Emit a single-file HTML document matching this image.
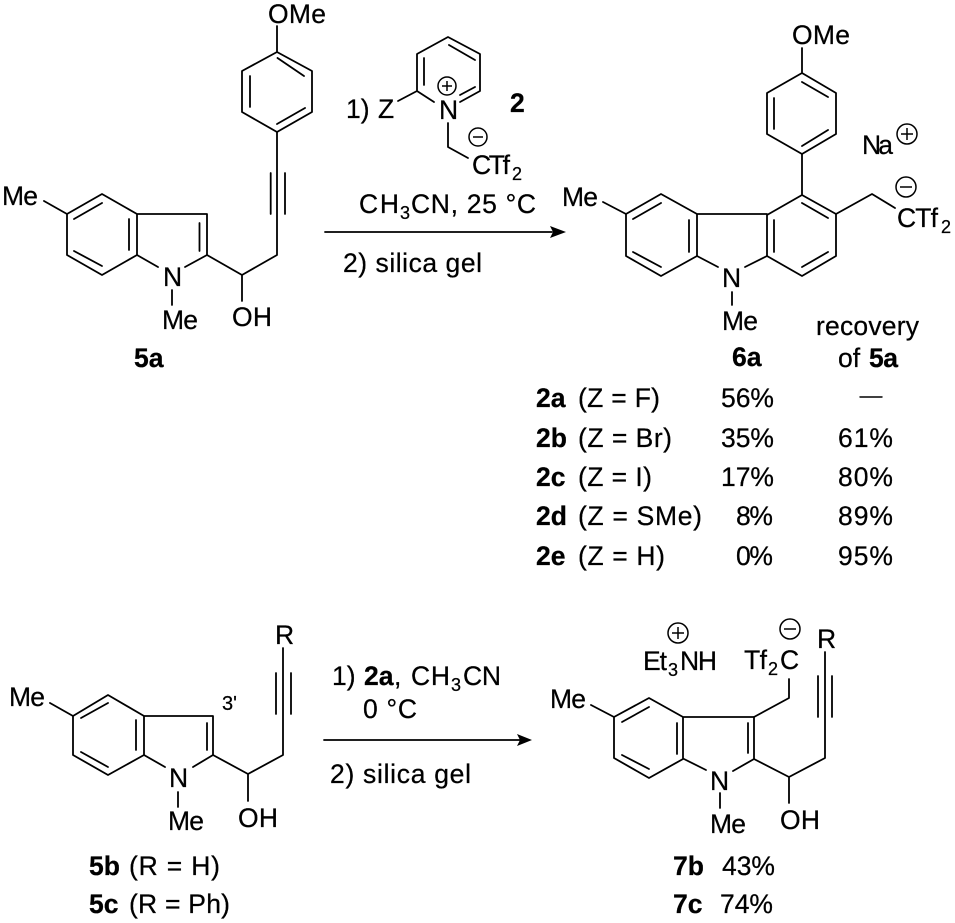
<!DOCTYPE html>
<html>
<head>
<meta charset="utf-8">
<style>
html,body{margin:0;padding:0;background:#fff;}
svg{display:block;}
text{font-family:"Liberation Sans",Arial,sans-serif;font-size:26.5px;fill:#000;stroke:#000;stroke-width:.25px;}
.b{font-weight:bold;}
.s{font-size:18px;}
.c{fill:none;stroke:#000;stroke-width:1.5;}
.l{font-size:20px;}
</style>
</head>
<body>
<svg width="955" height="923" viewBox="0 0 955 923" xmlns="http://www.w3.org/2000/svg">
<g fill="none" stroke="#000" stroke-width="1.8" stroke-linecap="round" stroke-linejoin="round">
<!-- 5a -->
<path d="M277 26V52L312 71V112L277 132L242 112V71L277 52"/>
<path d="M277.500 58L304 76M250 76V107M277 124L305 108"/>
<path d="M277 132V255L242 275V301M242 275L207 255V214H137L102 194L67 214V255L102 275L137 255V214M44 201L67 214"/>
<path d="M270.700 173V214M285 173V214M199.500 223V251M102 203L74 219M74 251L102 266M129 219V250"/>
<path d="M137 255L158 267M207 255L185 267M172 290V305"/>
<!-- pyridinium -->
<path d="M434 102L417 91V54L448 37L480 54V91L460 102M417 91L398 101"/>
<path d="M449 45L475 60M475 87L460 95M424 58V85M448 123V147L468 158"/>
<!-- arrow 1 -->
<path d="M325 232H552"/>
<!-- 6a -->
<path d="M802 48V73L836 93V134L802 154L767 134V93L802 73"/>
<path d="M802 82L828 97M828 130L802 146M774 98V129"/>
<path d="M802 154V195L836 214V256L802 276L767 256V215L802 195"/>
<path d="M802 203L828 218M828 252L802 267M774 220V252"/>
<path d="M767 214H697V256L661 276L626 256V214L661 194L697 214"/>
<path d="M661 203L633 219M633 252L661 267M689 220V252"/>
<path d="M603 202L626 214M697 256L718 267M767 256L745 267M732 292V305M836 214L872 194L895 208"/>
<!-- 5b -->
<path d="M283 648V755L248 774V801M248 774L213 755V716H144L108 695L73 716V755L108 775L144 755V716M50 703L73 716"/>
<path d="M276 673V714M291 673V714M207 723V750M108 703L81 718M81 752L108 767M136 720V750"/>
<path d="M144 755L165 767M213 755L193 767M178 792V807"/>
<!-- arrow 2 -->
<path d="M324 740H520"/>
<!-- 7 -->
<path d="M825 652V758L789 777V803M789 777L754 759V717H683L649 698L614 717V758L649 778L683 759V717M591 705L614 717"/>
<path d="M818 676V717M832 676V717M748 723V753M649 707L622 722M622 755L649 769M677 723V754"/>
<path d="M684 759L706 770M754 759L733 771M720 793V808M754 717L789 698V679"/>
<path d="M860 397H882" stroke-width="1.400"/>
</g>
<!-- arrowheads -->
<path d="M566 232L550 226L553 232L550 238Z" fill="#000"/>
<path d="M532 740L517 734L520 740L517 746Z" fill="#000"/>

<!-- charges -->
<g class="c">
<circle cx="447" cy="86" r="9"/><path d="M442 86H452M447 81V91"/>
<circle cx="478" cy="137" r="9"/><path d="M473 137H483"/>
<circle cx="907" cy="134" r="10"/><path d="M901 134H913M907 128V140"/>
<circle cx="906" cy="187" r="10"/><path d="M900 187H912"/>
<circle cx="678" cy="633" r="10"/><path d="M672 633H684M678 627V639"/>
<circle cx="790" cy="629" r="10"/><path d="M784 629H796"/>
</g>

<!-- 5a text -->
<text x="268" y="23" textLength="58">OMe</text>
<text x="2" y="205" textLength="36">Me</text>
<text x="163" y="286">N</text>
<text x="162" y="329" textLength="36">Me</text>
<text x="232" y="326" textLength="40">OH</text>
<text x="134" y="367" class="b">5a</text>

<!-- reagents 1 -->
<text x="346" y="118">1)</text>
<text x="378" y="118">Z</text>
<text x="439" y="119">N</text>
<text x="510" y="112" class="b">2</text>
<text x="472" y="174" textLength="38">CTf</text>
<text x="512" y="180" class="s">2</text>
<text x="359" y="213" textLength="40">CH</text>
<text x="400" y="219" class="s">3</text>
<text x="411" y="213" textLength="125">CN, 25 °C</text>
<text x="343" y="272" textLength="139">2) silica gel</text>

<!-- 6a text -->
<text x="792" y="44" textLength="58">OMe</text>
<text x="862" y="154" textLength="31">Na</text>
<text x="562" y="206" textLength="36">Me</text>
<text x="897" y="227" textLength="41">CTf</text>
<text x="941" y="233" class="s">2</text>
<text x="722" y="287">N</text>
<text x="722" y="330" textLength="36">Me</text>
<text x="816" y="335" textLength="103">recovery</text>
<text x="732" y="366" class="b">6a</text>
<text x="838" y="367">of</text>
<text x="869" y="367" class="b" textLength="29">5a</text>

<!-- table -->
<text x="536" y="407" class="b">2a</text><text x="578" y="407" textLength="82">(Z = F)</text><text x="721" y="407" textLength="53">56%</text>
<text x="536" y="447" class="b">2b</text><text x="578" y="447" textLength="94">(Z = Br)</text><text x="721" y="447" textLength="53">35%</text><text x="838" y="447" textLength="55">61%</text>
<text x="536" y="486" class="b">2c</text><text x="578" y="486" textLength="74">(Z = I)</text><text x="721" y="486" textLength="53">17%</text><text x="838" y="486" textLength="55">80%</text>
<text x="536" y="525" class="b">2d</text><text x="578" y="525" textLength="124">(Z = SMe)</text><text x="736" y="525" textLength="37">8%</text><text x="838" y="525" textLength="55">89%</text>
<text x="536" y="565" class="b">2e</text><text x="578" y="565" textLength="87">(Z = H)</text><text x="736" y="565" textLength="37">0%</text><text x="838" y="565" textLength="55">95%</text>

<!-- 5b text -->
<text x="275" y="644">R</text>
<text x="9" y="706" textLength="36">Me</text>
<text x="222" y="710" class="l">3'</text>
<text x="169" y="787">N</text>
<text x="168" y="830" textLength="36">Me</text>
<text x="238" y="827" textLength="40">OH</text>
<text x="89" y="875" class="b">5b</text><text x="129" y="875" textLength="91">(R = H)</text>
<text x="89" y="913" class="b">5c</text><text x="129" y="913" textLength="101">(R = Ph)</text>

<!-- reagents 2 -->
<text x="332" y="685">1)</text>
<text x="364" y="685" class="b">2a</text><text x="394" y="685">,</text>
<text x="411" y="685" textLength="39">CH</text>
<text x="451" y="691" class="s">3</text>
<text x="463" y="685" textLength="38">CN</text>
<text x="363" y="718" textLength="54">0 °C</text>
<text x="330" y="783" textLength="141">2) silica gel</text>

<!-- 7 text -->
<text x="817" y="648">R</text>
<text x="643" y="670" textLength="24">Et</text>
<text x="668" y="676" class="s">3</text>
<text x="680" y="670" textLength="37">NH</text>
<text x="744" y="669" textLength="23">Tf</text>
<text x="768" y="675" class="s">2</text>
<text x="780" y="669">C</text>
<text x="550" y="708" textLength="36">Me</text>
<text x="710" y="790">N</text>
<text x="710" y="833" textLength="36">Me</text>
<text x="780" y="829" textLength="40">OH</text>
<text x="673" y="875" class="b">7b</text><text x="722" y="875" textLength="53">43%</text>
<text x="673" y="913" class="b">7c</text><text x="720" y="913" textLength="53">74%</text>
</svg>
</body>
</html>
